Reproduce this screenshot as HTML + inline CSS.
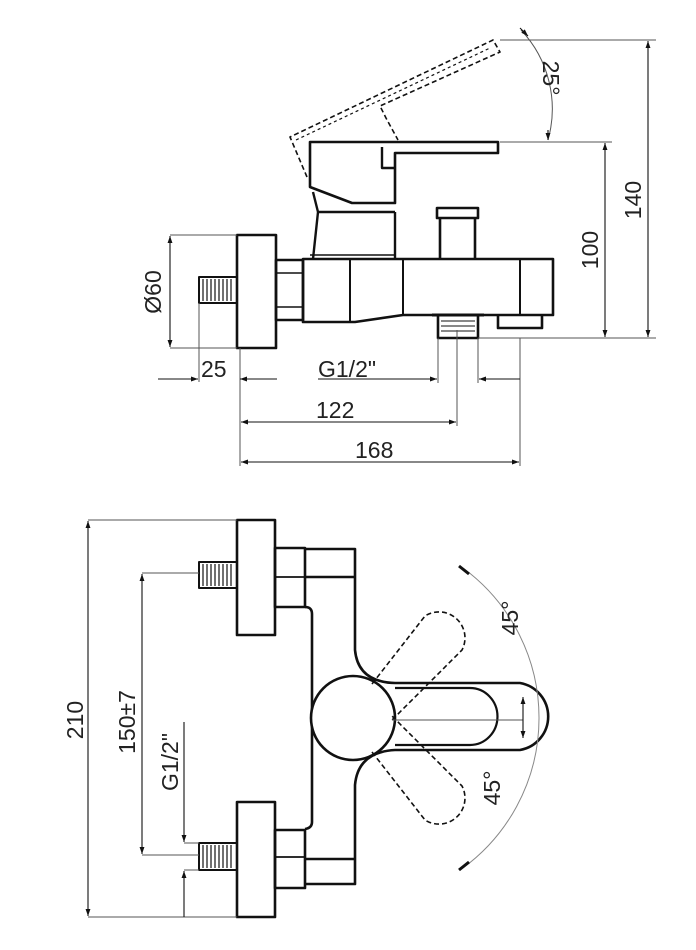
<!DOCTYPE html>
<html><head><meta charset="utf-8"><style>
html,body{margin:0;padding:0;background:#fff;}
svg{display:block;}
text{font-family:"Liberation Sans",sans-serif;fill:#222;}
</style></head><body>
<svg width="696" height="950" viewBox="0 0 696 950" xmlns="http://www.w3.org/2000/svg">
<defs>
<marker id="a" viewBox="0 0 10 10" refX="10" refY="5" markerWidth="12" markerHeight="7" orient="auto-start-reverse" markerUnits="userSpaceOnUse"><path d="M0,1.5 L10,5 L0,8.5 z" fill="#111"/></marker>
</defs>
<g fill="none" stroke="#111" stroke-width="2.6" stroke-linejoin="round">
<!-- TOP VIEW -->
<rect x="237" y="235" width="39" height="113"/>
<rect x="199" y="277" width="38" height="26" stroke-width="2"/>
<g stroke-width="1.2"><path d="M203 279v22M207 279v22M211 279v22M215 279v22M219 279v22M223 279v22M227 279v22M231 279v22"/></g>
<rect x="276" y="260" width="27" height="60"/>
<path d="M276 273h27M276 307h27" stroke-width="1.6"/>
<path d="M303 259 H553 V315 H403 L355 322 H303 Z"/>
<path d="M350 259 V322 M403 259 V315 M520 259 V315" stroke-width="2"/>
<rect x="438" y="315" width="40" height="23"/>
<path d="M432 315 h52" stroke-width="3"/>
<path d="M441 321h34M441 326h34M441 331h34" stroke-width="1"/>
<path d="M498 315 V328 H542 V315"/>
<rect x="437" y="208" width="41" height="10"/>
<path d="M440 218 V259 M475 218 V259"/>
<path d="M313 259 L318 212 L313 192 M395 259 V212 M318 212 H395" stroke-width="2.4"/>
<path d="M310 142 H498 V153 H395 V203 H352 L310 187 Z"/>
<path d="M382 147 V168 H395" stroke-width="2.4"/>
<path d="M310 255 H395" stroke-width="1.6"/>
<!-- dashed handle -->
<path d="M307 177 L290 137 L493 40 L500 52 L380 106 L386 118 L398 140" stroke-width="1.6" stroke-dasharray="5,3"/>
<path d="M296 140 L490 48" stroke-width="1.2" stroke-dasharray="3,3"/>
<!-- BOTTOM VIEW -->
<rect x="237" y="520" width="38" height="115"/>
<rect x="237" y="802" width="38" height="115"/>
<rect x="199" y="562" width="38" height="26" stroke-width="2"/>
<rect x="199" y="843" width="38" height="27" stroke-width="2"/>
<g stroke-width="1.2"><path d="M203 564v22M207 564v22M211 564v22M215 564v22M219 564v22M223 564v22M227 564v22M231 564v22"/><path d="M203 845v23M207 845v23M211 845v23M215 845v23M219 845v23M223 845v23M227 845v23M231 845v23"/></g>
<rect x="275" y="548" width="30" height="59"/>
<rect x="275" y="830" width="30" height="58"/>
<path d="M275 577h30M275 857h30" stroke-width="1.8"/>
<path d="M305 549 H355 V650 Q358 682 395 683 H520 A34 34 0 0 1 520 750 H395 Q358 752 355 785 V884 H305 M305 577 H355 M305 859 H355"/>
<path d="M305 607 Q312 607 312 614 V822 Q312 828 305 829"/>
<path d="M395 688 H470 A27 28 0 0 1 470 745 H395" stroke-width="2.2"/>
<circle cx="353" cy="718" r="42" fill="#fff"/>
<!-- dashed levers -->
<g stroke-width="1.6" stroke-dasharray="5,3">
<path d="M372 684 L425 616 A26 26 0 0 1 462 650 L392 720"/>
<path d="M372 752 L425 820 A26 26 0 0 0 462 786 L392 716"/>
</g>
</g>
<!-- dimension lines -->
<g fill="none" stroke="#555" stroke-width="1">
<path d="M500 40 H656 M500 142 H612 M478 338 H656"/>
<path d="M170 235 H237 M170 348 H237"/>
<path d="M240 348 V466 M199 303 V382 M457 330 V426 M438 338 V383 M478 338 V383 M520 338 V466"/>
<path d="M88 520 H237 M88 917 H237 M142 573 H199 M142 855 H199 M184 843 H199 M184 870 H199"/>
<path d="M521 30 A115 115 0 0 1 548 140"/>
<path d="M463 568 A186 186 0 0 1 463 868" stroke="#888"/>
<path d="M392 720 H523"/>
</g>
<g fill="none" stroke="#111" stroke-width="1.1" marker-start="url(#a)" marker-end="url(#a)">
<path d="M648 41 V337"/>
<path d="M605 143 V337"/>
<path d="M170 236 V347"/>
<path d="M241 422 H456"/>
<path d="M241 462 H519"/>
<path d="M88 521 V916"/>
<path d="M142 574 V854"/>
<path d="M523 697 V738"/>
</g>
<g fill="none" stroke="#111" stroke-width="1.1">
<path d="M158 379 H198" marker-end="url(#a)"/>
<path d="M277 379 H240" marker-end="url(#a)"/>
<path d="M318 379 H437" marker-end="url(#a)"/>
<path d="M520 379 H479" marker-end="url(#a)"/>
<path d="M184 722 V842" marker-end="url(#a)"/>
<path d="M184 917 V871" marker-end="url(#a)"/>
<path d="M528 36 L520 28" marker-start="url(#a)"/>
<path d="M548 130 L548 140" marker-end="url(#a)"/>
</g>
<path d="M459 566 l10 8 M459 870 l10 -8" stroke="#111" stroke-width="3"/>
<!-- labels -->
<g font-size="23">
<text x="201" y="377">25</text>
<text x="318" y="377">G1/2"</text>
<text x="316" y="418">122</text>
<text x="355" y="458">168</text>
<text transform="translate(161,292) rotate(-90)" text-anchor="middle">Ø60</text>
<text transform="translate(598,250) rotate(-90)" text-anchor="middle">100</text>
<text transform="translate(641,200) rotate(-90)" text-anchor="middle">140</text>
<text transform="translate(543,78) rotate(90)" text-anchor="middle">25°</text>
<text transform="translate(83,720) rotate(-90)" text-anchor="middle">210</text>
<text transform="translate(135,722) rotate(-90)" text-anchor="middle">150±7</text>
<text transform="translate(178,762) rotate(-90)" text-anchor="middle">G1/2"</text>
<text transform="translate(518,618) rotate(-90)" text-anchor="middle">45°</text>
<text transform="translate(500,788) rotate(-90)" text-anchor="middle">45°</text>
</g>
</svg>
</body></html>
